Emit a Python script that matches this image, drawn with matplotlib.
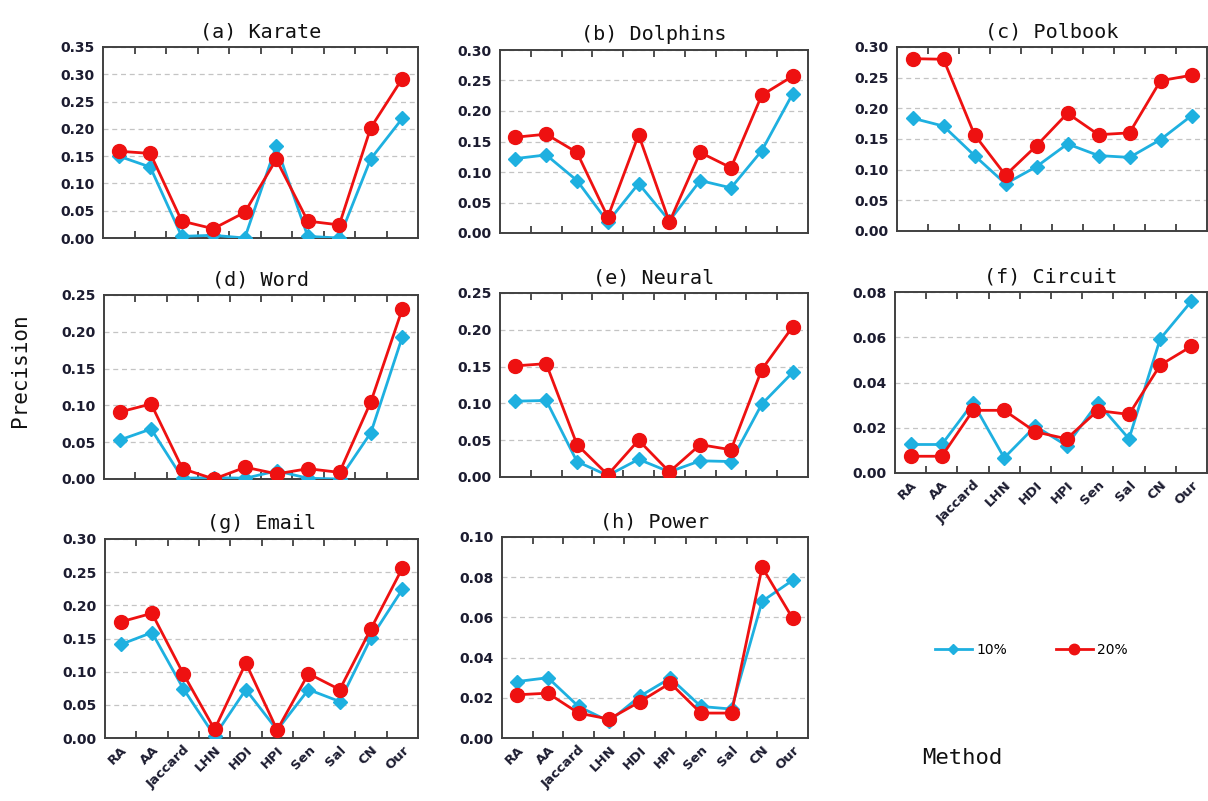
import matplotlib
matplotlib.use("Agg")
import matplotlib.pyplot as plt
import numpy as np
from matplotlib.ticker import MultipleLocator, FixedLocator

methods = ["RA", "AA", "Jaccard", "LHN", "HDI", "HPI", "Sen", "Sal", "CN", "Our"]

titles = ["(a) Karate", "(b) Dolphins", "(c) Polbook", "(d) Word",
          "(e) Neural", "(f) Circuit", "(g) Email", "(h) Power"]

# precision, 10% training removed
karate_10 = [0.150, 0.130, 0.003, 0.005, 0.000, 0.169, 0.003, 0.000, 0.145, 0.219]
dolphins_10 = [0.122, 0.128, 0.086, 0.018, 0.081, 0.020, 0.086, 0.074, 0.135, 0.228]
polbook_10 = [0.184, 0.171, 0.123, 0.077, 0.105, 0.142, 0.123, 0.120, 0.149, 0.188]
word_10 = [0.053, 0.068, 0.001, 0.002, 0.001, 0.011, 0.001, 0.000, 0.063, 0.193]
neural_10 = [0.103, 0.104, 0.021, 0.002, 0.024, 0.007, 0.022, 0.021, 0.099, 0.142]
circuit_10 = [0.0126, 0.0126, 0.031, 0.0067, 0.0207, 0.0121, 0.031, 0.0151, 0.0593, 0.0759]
email_10 = [0.141, 0.159, 0.0745, 0.003, 0.073, 0.012, 0.073, 0.055, 0.151, 0.224]
power_10 = [0.0281, 0.030, 0.0157, 0.0083, 0.0207, 0.0298, 0.0157, 0.0144, 0.068, 0.0785]

# precision, 20%
karate_20 = [0.159, 0.155, 0.031, 0.017, 0.047, 0.144, 0.031, 0.024, 0.202, 0.292]
dolphins_20 = [0.157, 0.162, 0.132, 0.026, 0.161, 0.018, 0.132, 0.107, 0.226, 0.257]
polbook_20 = [0.281, 0.280, 0.157, 0.091, 0.139, 0.192, 0.157, 0.160, 0.245, 0.254]
word_20 = [0.091, 0.102, 0.014, 0.000, 0.016, 0.007, 0.014, 0.009, 0.105, 0.231]
neural_20 = [0.151, 0.154, 0.044, 0.003, 0.050, 0.007, 0.044, 0.037, 0.146, 0.204]
circuit_20 = [0.0074, 0.0074, 0.0277, 0.0277, 0.0182, 0.0151, 0.0276, 0.0259, 0.0477, 0.056]
email_20 = [0.175, 0.188, 0.097, 0.013, 0.113, 0.012, 0.097, 0.073, 0.165, 0.256]
power_20 = [0.0215, 0.0223, 0.0124, 0.0094, 0.018, 0.0273, 0.0124, 0.0124, 0.085, 0.0595]

series_10 = [karate_10, dolphins_10, polbook_10, word_10, neural_10, circuit_10, email_10, power_10]
series_20 = [karate_20, dolphins_20, polbook_20, word_20, neural_20, circuit_20, email_20, power_20]

y_max = [0.35, 0.30, 0.30, 0.25, 0.25, 0.08, 0.30, 0.10]
y_step = [0.05, 0.05, 0.05, 0.05, 0.05, 0.02, 0.05, 0.02]

W, H = 1208, 801
# axes boxes in pixels: left, top, right, bottom
boxes = [
    (103, 47, 418, 238),
    (500, 50, 808, 233),
    (897, 47, 1207, 231),
    (104, 295, 418, 479),
    (500, 293, 808, 477),
    (895, 292, 1207, 473),
    (105, 539, 418, 738),
    (502, 537, 808, 738),
]
show_xlabels = [False, False, False, False, False, True, True, True]

BLUE = "#1eb0e0"
RED = "#ee1111"
TICK_FG = "#1c1c30"
SPINE = "#404040"
MONO = "DejaVu Sans Mono"


def px_rect(l, t, r, b):
    return [l / W, 1 - b / H, (r - l) / W, (b - t) / H]


fig = plt.figure(figsize=(W / 100, H / 100), dpi=100)
fig.patch.set_facecolor("white")

x = np.arange(len(methods))
handles = None
for i, box in enumerate(boxes):
    ax = fig.add_axes(px_rect(*box))
    l1, = ax.plot(x, series_10[i], color=BLUE, lw=2.0, marker="D", ms=7,
                  mec=BLUE, mfc=BLUE, zorder=3)
    l2, = ax.plot(x, series_20[i], color=RED, lw=2.0, marker="o", ms=10,
                  mec=RED, mfc=RED, zorder=4)
    handles = (l1, l2)

    ax.set_xlim(-0.5, len(methods) - 0.5)
    ax.set_ylim(0, y_max[i])
    ax.yaxis.set_major_locator(MultipleLocator(y_step[i]))
    ax.yaxis.set_major_formatter(plt.FuncFormatter(lambda v, p: f"{v:.2f}"))
    ax.tick_params(axis="y", length=0, labelsize=10, labelcolor=TICK_FG, pad=6)
    for lab in ax.get_yticklabels():
        lab.set_fontweight("bold")

    ax.set_xticks(x)
    ax.xaxis.set_minor_locator(FixedLocator(np.arange(0.5, len(methods) - 1, 1.0)))
    ax.tick_params(axis="x", which="major", length=0, pad=4)
    ax.tick_params(axis="x", which="minor", direction="in", length=5, width=1.3,
                   color=SPINE, top=True, bottom=True)
    if show_xlabels[i]:
        ax.set_xticklabels(methods, rotation=45, ha="right", rotation_mode="anchor",
                           fontsize=9.5, fontweight="bold", color=TICK_FG)
    else:
        ax.set_xticklabels([])

    ax.grid(axis="y", linestyle=(0, (4, 3)), color="#c4c4c4", lw=0.9)
    ax.set_axisbelow(True)
    for s in ax.spines.values():
        s.set_color(SPINE)
        s.set_linewidth(1.4)

    ax.set_title(titles[i], fontsize=14.5, family=MONO, pad=7, color="#111111")

fig.text(20 / W, 1 - 370 / H, "Precision", rotation=90, ha="center", va="center",
         fontsize=15, family=MONO, color="#111111")
fig.text(962 / W, 1 - 758 / H, "Method", ha="center", va="center",
         fontsize=16, family=MONO, color="#111111")

fig.legend(handles, ["10%", "20%"], loc="center left",
           bbox_to_anchor=(922 / W, 1 - 650 / H), ncol=2, frameon=False,
           fontsize=10, handlelength=2.7, columnspacing=3.5, handletextpad=0.3,
           markerscale=0.75)

fig.savefig("out.png", dpi=100, facecolor="white")
